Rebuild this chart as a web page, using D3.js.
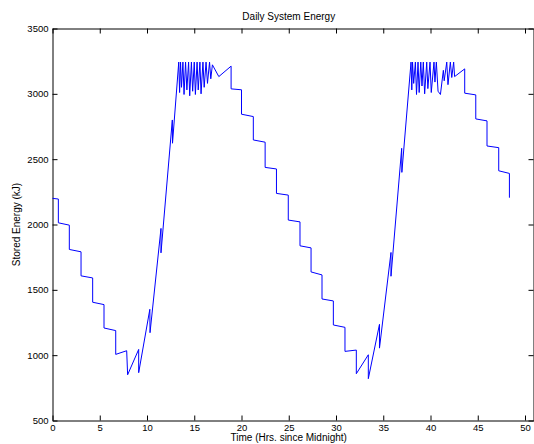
<!DOCTYPE html>
<html>
<head>
<meta charset="utf-8">
<script src="https://cdn.jsdelivr.net/npm/d3@7"></script>
<style>
  body { margin: 0; background: #fff; }
  svg { display: block; font-family: "Liberation Sans", Arial, sans-serif; }
  .axis text { font-size: 9.5px; fill: #000; }
  .axis line, .axis path { stroke: #000; }
</style>
</head>
<body>
<div id="chart"></div>
<script>
// time (hours since midnight) and stored energy (kJ)
const hours = [
  0, 0.62, 0.62, 1.78, 1.78, 3.02, 3.02, 4.25, 4.25, 5.45, 5.45, 6.69, 6.69, 7.85, 7.95,
  9.12, 9.12, 10.30, 10.32, 11.48, 11.48, 12.68, 12.70,
  13.36, 13.45, 13.55, 13.65, 13.80, 13.92, 14.08, 14.22, 14.40, 14.52, 14.70, 14.83,
  15.00, 15.12, 15.30, 15.42, 15.60, 15.72, 15.92, 16.05, 16.25, 16.40, 16.62, 16.75,
  16.92, 17.60, 18.90, 18.90,
  20.00, 20.00, 21.25, 21.25, 22.50, 22.50, 23.70, 23.70, 24.95, 24.95, 26.19, 26.19,
  27.36, 27.36, 28.52, 28.52, 29.72, 29.72, 30.95, 30.95, 32.15, 32.15, 33.42, 33.42,
  34.60, 34.60, 35.82, 35.82, 36.95, 36.97,
  37.94, 38.02, 38.10, 38.22, 38.40, 38.52, 38.68, 38.80, 38.97, 39.10, 39.24, 39.38,
  39.60, 39.72, 39.95, 40.08, 40.37, 40.47, 40.62, 40.80, 41.05, 41.36, 41.45, 41.72,
  41.85, 42.10, 42.25, 42.45, 42.55, 43.62, 43.62,
  44.79, 44.79, 45.98, 45.98, 47.22, 47.22, 48.35, 48.35
];
const energy = [
  2200, 2195, 2013, 1995, 1809, 1791, 1607, 1591, 1405, 1387, 1208, 1188, 1006, 1034, 850,
  1044, 866, 1351, 1172, 1970, 1783, 2800, 2622,
  3243, 3010, 3243, 3050, 3243, 2995, 3243, 3030, 3243, 2985, 3243, 3020,
  3243, 2995, 3243, 3030, 3243, 3000, 3243, 3050, 3243, 3080, 3243, 3115,
  3222, 3132, 3212, 3038,
  3031, 2844, 2826, 2647, 2630, 2437, 2425, 2238, 2225, 2034, 2020, 1837,
  1821, 1637, 1614, 1430, 1415, 1231, 1213, 1029, 1039, 858, 1003, 820,
  1236, 1054, 1786, 1604, 2583, 2399,
  3243, 3030, 3243, 3080, 3243, 2995, 3243, 3010, 3243, 3060, 3243, 3000,
  3243, 3040, 3243, 3010, 3243, 3090, 3243, 3020, 2995, 3180, 3100, 3243,
  3070, 3243, 3125, 3243, 3132, 3191, 3005,
  2992, 2808, 2793, 2601, 2588, 2411, 2391, 2205
];
const xTicks = [0, 5, 10, 15, 20, 25, 30, 35, 40, 45, 50];
const yTicks = [500, 1000, 1500, 2000, 2500, 3000, 3500];

const W = 534, H = 444;
const margin = { left: 52.5, right: 533.5, top: 28.5, bottom: 420.5 };

const data = hours.map((t, i) => ({ t: t, e: energy[i] }));

const svg = d3.select('#chart').append('svg')
  .attr('width', W)
  .attr('height', H);

// 0..50 spans 52.5..525, the box runs a little further right as in the picture
const xBase = d3.scaleLinear().domain([0, 50]).range([margin.left, 525]);
const xScale = d3.scaleLinear().domain([0, xBase.invert(margin.right)]).range([margin.left, margin.right]);
const yScale = d3.scaleLinear().domain([500, 3500]).range([margin.bottom, margin.top]);

// bottom axis
svg.append('g')
  .attr('class', 'axis')
  .attr('transform', `translate(0,${margin.bottom})`)
  .call(d3.axisBottom(xScale).tickValues(xTicks).tickFormat(d3.format('d'))
    .tickSizeInner(-5).tickSizeOuter(0).tickPadding(4));

// top axis, ticks only
svg.append('g')
  .attr('class', 'axis')
  .attr('transform', `translate(0,${margin.top})`)
  .call(d3.axisTop(xScale).tickValues(xTicks).tickSizeInner(-5).tickSizeOuter(0).tickFormat(''));

// left axis
svg.append('g')
  .attr('class', 'axis')
  .attr('transform', `translate(${margin.left},0)`)
  .call(d3.axisLeft(yScale).tickValues(yTicks).tickFormat(d3.format('d'))
    .tickSizeInner(-5).tickSizeOuter(0).tickPadding(4));

// right axis, ticks only
svg.append('g')
  .attr('class', 'axis')
  .attr('transform', `translate(${margin.right},0)`)
  .call(d3.axisRight(yScale).tickValues(yTicks).tickSizeInner(-5).tickSizeOuter(0).tickFormat(''));

// energy line
const line = d3.line()
  .x(d => xScale(d.t))
  .y(d => yScale(d.e));

svg.append('path')
  .datum(data)
  .attr('fill', 'none')
  .attr('stroke', '#0000ff')
  .attr('stroke-width', 1)
  .attr('d', line);

const midX = xScale(25);

//title
svg.append('text')
  .attr('x', midX)
  .attr('y', 20)
  .attr('text-anchor', 'middle')
  .style('font-size', '10px')
  .text('Daily System Energy');

//x label
svg.append('text')
  .attr('x', midX)
  .attr('y', 441)
  .attr('text-anchor', 'middle')
  .style('font-size', '10px')
  .text('Time (Hrs. since Midnight)');

//y label
svg.append('text')
  .attr('transform', `translate(20,${(margin.top + margin.bottom) / 2}) rotate(-90)`)
  .attr('text-anchor', 'middle')
  .style('font-size', '10px')
  .text('Stored Energy (kJ)');
</script>
</body>
</html>
